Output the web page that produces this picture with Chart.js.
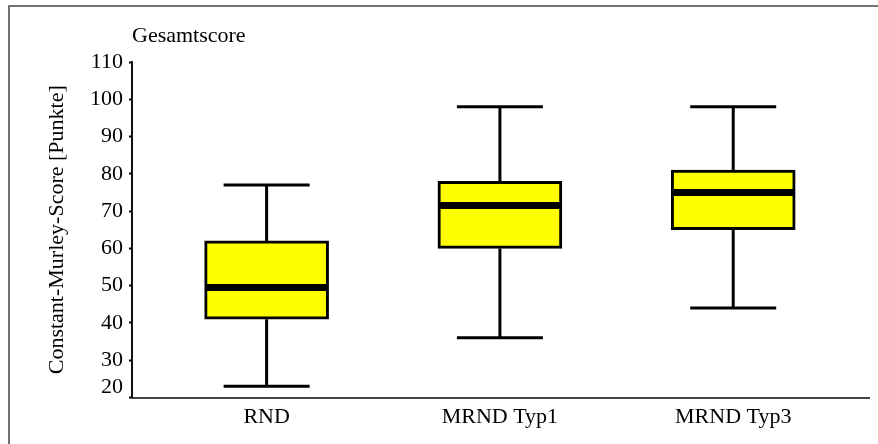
<!DOCTYPE html>
<html>
<head>
<meta charset="utf-8">
<title>Gesamtscore</title>
<script src="https://cdn.jsdelivr.net/npm/chart.js@4/dist/chart.umd.min.js"></script>
<style>
  html, body { margin: 0; padding: 0; background: #fff; }
  #wrap { width: 878px; height: 444px; }
</style>
</head>
<body>
<div id="wrap"><canvas id="c" width="878" height="444"></canvas></div>
<script>
// Box plot of the Constant-Murley total score per group
const categories = ['RND', 'MRND Typ1', 'MRND Typ3'];
const whiskerLow = [23, 36, 44];
const quartile1 = [41, 60, 65];
const medians = [49.5, 71.5, 75];
const quartile3 = [62, 78, 81];
const whiskerHigh = [77, 98, 98];
const yTicks = [20, 30, 40, 50, 60, 70, 80, 90, 100, 110];

const SERIF = "'Liberation Serif', 'Times New Roman', serif";
const FONT_SIZE = 22;
const BOX_WIDTH = 124;
const CAP_WIDTH = 86;

// category positions on the numeric x axis
const positions = categories.map((_, i) => i + 1);

const boxPlotPlugin = {
  id: 'boxPlot',
  beforeDraw(chart) {
    // outer frame (top and left edges)
    const ctx = chart.ctx;
    ctx.save();
    ctx.strokeStyle = '#444';
    ctx.lineWidth = 1.5;
    ctx.beginPath();
    ctx.moveTo(878, 6);
    ctx.lineTo(9, 6);
    ctx.lineTo(9, 444);
    ctx.stroke();
    // chart heading
    ctx.fillStyle = '#000';
    ctx.font = FONT_SIZE + 'px ' + SERIF;
    ctx.textAlign = 'left';
    ctx.textBaseline = 'alphabetic';
    ctx.fillText('Gesamtscore', chart.chartArea.left, 42);
    ctx.restore();
  },
  beforeDatasetsDraw(chart) {
    // whiskers and caps
    const ctx = chart.ctx;
    const xs = chart.scales.x, ys = chart.scales.y;
    ctx.save();
    ctx.strokeStyle = '#000';
    ctx.lineWidth = 3;
    ctx.lineCap = 'butt';
    positions.forEach((p, i) => {
      const x = xs.getPixelForValue(p);
      const yLo = ys.getPixelForValue(whiskerLow[i]);
      const yHi = ys.getPixelForValue(whiskerHigh[i]);
      const yQ1 = ys.getPixelForValue(quartile1[i]);
      const yQ3 = ys.getPixelForValue(quartile3[i]);
      ctx.beginPath();
      ctx.moveTo(x, yHi); ctx.lineTo(x, yQ3);
      ctx.moveTo(x, yQ1); ctx.lineTo(x, yLo);
      ctx.moveTo(x - CAP_WIDTH / 2, yHi); ctx.lineTo(x + CAP_WIDTH / 2, yHi);
      ctx.moveTo(x - CAP_WIDTH / 2, yLo); ctx.lineTo(x + CAP_WIDTH / 2, yLo);
      ctx.stroke();
    });
    ctx.restore();
  },
  afterDatasetsDraw(chart) {
    // median bands
    const ctx = chart.ctx;
    const xs = chart.scales.x, ys = chart.scales.y;
    ctx.save();
    ctx.strokeStyle = '#000';
    ctx.lineWidth = 7;
    positions.forEach((p, i) => {
      const x = xs.getPixelForValue(p);
      const y = ys.getPixelForValue(medians[i]);
      ctx.beginPath();
      ctx.moveTo(x - BOX_WIDTH / 2 + 1.5, y);
      ctx.lineTo(x + BOX_WIDTH / 2 - 1.5, y);
      ctx.stroke();
    });
    // lowest y label sits slightly above its tick
    const ys0 = ys.getPixelForValue(yTicks[0]);
    ctx.fillStyle = '#000';
    ctx.font = FONT_SIZE + 'px ' + SERIF;
    ctx.textAlign = 'right';
    ctx.textBaseline = 'middle';
    ctx.fillText(String(yTicks[0]), ys.right - 9, ys0 - 10);
    ctx.restore();
  }
};

new Chart(document.getElementById('c'), {
  type: 'bar',
  data: {
    datasets: [{
      label: 'Gesamtscore',
      data: positions.map((p, i) => ({ x: p, y: [quartile1[i], quartile3[i]] })),
      backgroundColor: '#ffff00',
      borderColor: '#000',
      borderWidth: 3,
      borderSkipped: false,
      barThickness: BOX_WIDTH
    }]
  },
  options: {
    responsive: false,
    animation: false,
    events: [],
    layout: { padding: { top: 62, right: 9, left: 0, bottom: 0 } },
    plugins: {
      legend: { display: false },
      tooltip: { enabled: false },
      title: { display: false }
    },
    scales: {
      x: {
        type: 'linear',
        offset: false,
        min: 0.423,
        max: 3.582,
        afterBuildTicks(scale) {
          scale.ticks = positions.map(v => ({ value: v }));
        },
        afterFit(scale) { scale.height = 46.5; },
        grid: { display: false, drawTicks: false, offset: false },
        border: { display: true, color: '#444', width: 2 },
        ticks: {
          padding: 7,
          color: '#000',
          font: { family: SERIF, size: FONT_SIZE },
          callback: (v) => categories[v - 1] ?? ''
        }
      },
      y: {
        min: 20,
        max: 110,
        afterBuildTicks(scale) {
          scale.ticks = yTicks.map(v => ({ value: v }));
        },
        afterFit(scale) { scale.width = 132; },
        grid: {
          display: true,
          drawOnChartArea: false,
          drawTicks: true,
          tickLength: 3,
          tickColor: '#000',
          tickWidth: 2
        },
        border: { display: true, color: '#111', width: 2 },
        ticks: {
          padding: 6,
          color: '#000',
          font: { family: SERIF, size: FONT_SIZE },
          callback: (v) => (v === yTicks[0] ? '' : String(v))
        },
        title: {
          display: true,
          text: 'Constant-Murley-Score [Punkte]',
          color: '#000',
          font: { family: SERIF, size: FONT_SIZE },
          padding: { top: 44, bottom: 0 }
        }
      }
    }
  },
  plugins: [boxPlotPlugin]
});
</script>
</body>
</html>
